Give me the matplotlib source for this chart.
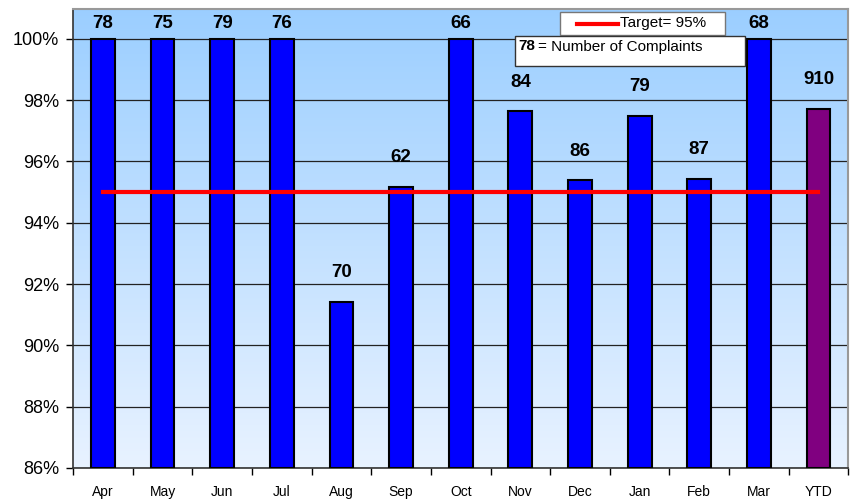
import numpy as np
import matplotlib.pyplot as plt
from matplotlib.lines import Line2D
from matplotlib.patches import Rectangle

plt.rcParams['font.family'] = ['Liberation Sans', 'DejaVu Sans']

months = ["Apr", "May", "Jun", "Jul", "Aug", "Sep", "Oct", "Nov", "Dec", "Jan", "Feb", "Mar", "YTD"]
pct = [100, 100, 100, 100, 91.43, 95.16, 100, 97.63, 95.38, 97.49, 95.42, 100, 97.71]
complaints = [78, 75, 79, 76, 70, 62, 66, 84, 86, 79, 87, 68, 910]
target = 95
yticks = [86, 88, 90, 92, 94, 96, 98, 100]

W, H = 850, 500
fig = plt.figure(figsize=(8.5, 5), dpi=100)
ax = fig.add_axes([0.086, 0.064, 0.912, 0.918])

ymin, ymax = 86, 100.97
x = np.arange(len(months))

# gradient background
grad = np.linspace(0, 1, 256).reshape(-1, 1)
top = np.array([0.61, 0.81, 1.0])
bot = np.array([0.91, 0.95, 1.0])
img = bot + (top - bot) * grad
ax.imshow(img[:, None, :].repeat(2, axis=1), extent=[-0.5, len(months) - 0.5, ymin, ymax],
          origin="lower", aspect="auto", zorder=0)

for t in yticks:
    ax.axhline(t, color="#222222", lw=0.9, zorder=1)

colors = ["#0000FF"] * (len(months) - 1) + ["#800080"]
ax.bar(x, [p - ymin for p in pct], bottom=ymin, width=0.4, color=colors,
       edgecolor="black", linewidth=1.5, zorder=3)

ax.plot([x[0], x[-1]], [target, target], color="#FF0000", lw=3, zorder=4)

for xi, p, c in zip(x, pct, complaints):
    ax.annotate(str(c), (xi, p), xytext=(0, 5 if p >= 100 else 15), textcoords="offset points",
                ha="center", va="bottom", fontsize=13.5, fontweight="bold", zorder=5)

ax.set_xlim(-0.5, len(months) - 0.5)
ax.set_ylim(ymin, ymax)
ax.set_yticks(yticks)
ax.set_yticklabels([f"{t}%" for t in yticks], fontsize=13)
ax.set_xticks(x)
ax.set_xticklabels(months, fontsize=10)
ax.tick_params(axis="x", length=0, pad=12)
ax.set_xticks(np.arange(-0.5, len(months)), minor=True)
ax.tick_params(axis="x", which="minor", length=5, direction="out", width=1)
ax.tick_params(axis="y", length=5, width=1, pad=5)

for s in ["left", "bottom"]:
    ax.spines[s].set_color("#333333")
    ax.spines[s].set_linewidth(1.2)
for s in ["top", "right"]:
    ax.spines[s].set_color("#999999")
    ax.spines[s].set_linewidth(1.5)


def px(xp, yp):
    return xp / W, 1 - yp / H


# Target legend box
x0, y0 = px(560, 35)
x1, y1 = px(725, 12)
fig.patches.append(Rectangle((x0, y0), x1 - x0, y1 - y0, transform=fig.transFigure,
                             fc="white", ec="#777777", lw=1, zorder=6))
lx0, ly = px(577, 23.5)
lx1, _ = px(618, 23.5)
fig.lines.append(Line2D([lx0, lx1], [ly, ly], transform=fig.transFigure,
                        color="#FF0000", lw=3, zorder=7))
tx, ty = px(620, 23.5)
fig.text(tx, ty, "Target= 95%", fontsize=11, va="center", ha="left", zorder=7)

# complaints note box
x0, y0 = px(515, 66)
x1, y1 = px(745, 36)
fig.patches.append(Rectangle((x0, y0), x1 - x0, y1 - y0, transform=fig.transFigure,
                             fc="white", ec="#333333", lw=1, zorder=8))
tx, ty = px(518, 46.5)
fig.text(tx, ty, "78", fontsize=11, fontweight="bold", va="center", ha="left", zorder=9)
tx, ty = px(538, 46.5)
fig.text(tx, ty, "= Number of Complaints", fontsize=11, va="center", ha="left", zorder=9)

fig.savefig("out.png", dpi=100)
